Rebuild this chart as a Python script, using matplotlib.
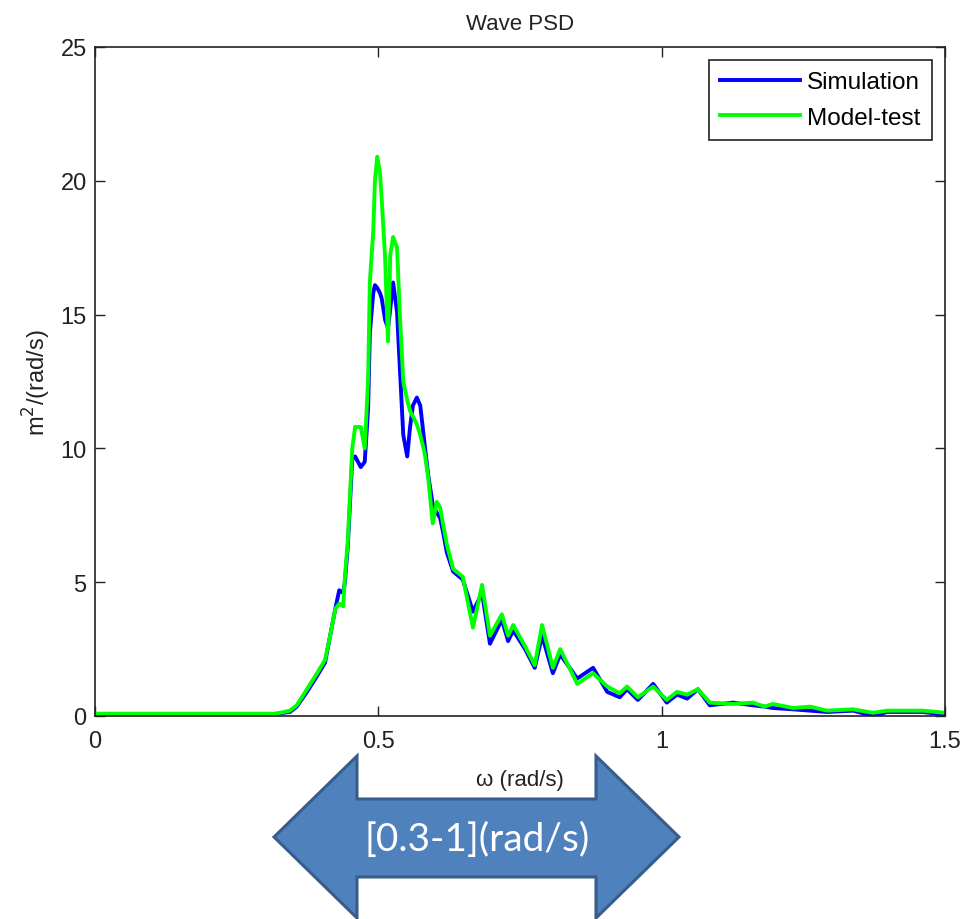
"""Wave PSD: simulation vs model-test spectrum, with the [0.3-1] rad/s band arrow."""

import matplotlib
matplotlib.use("Agg")
import matplotlib.pyplot as plt
from matplotlib.patches import Polygon

plt.rcParams["font.family"] = ["Liberation Sans", "DejaVu Sans"]

# ---- Data ----

omega = [0.000, 0.318, 0.344, 0.356, 0.374, 0.392, 0.406, 0.415, 0.424, 0.431,
         0.438, 0.441, 0.446, 0.454, 0.459, 0.469, 0.476, 0.482, 0.485, 0.491,
         0.494, 0.498, 0.503, 0.506, 0.512, 0.517, 0.521, 0.526, 0.533, 0.538,
         0.544, 0.551, 0.556, 0.561, 0.568, 0.574, 0.582, 0.588, 0.596, 0.603,
         0.609, 0.614, 0.621, 0.632, 0.649, 0.667, 0.683, 0.697, 0.718, 0.729,
         0.738, 0.759, 0.776, 0.789, 0.808, 0.821, 0.851, 0.879, 0.904, 0.926,
         0.939, 0.958, 0.985, 1.009, 1.027, 1.045, 1.064, 1.085, 1.126, 1.161,
         1.182, 1.196, 1.232, 1.262, 1.292, 1.338, 1.373, 1.398, 1.461, 1.500]

psd_sim = [0.08, 0.08, 0.15, 0.35, 0.9, 1.5, 2.0, 3.0, 4.0, 4.7,
           4.6, 5.0, 6.3, 9.6, 9.7, 9.3, 9.5, 11.5, 14.3, 15.8,
           16.1, 16.0, 15.8, 15.6, 14.8, 14.5, 15.2, 16.2, 15.1, 13.0,
           10.5, 9.7, 10.8, 11.6, 11.9, 11.6, 10.1, 9.0, 7.9, 7.6,
           7.4, 6.9, 6.1, 5.4, 5.1, 3.9, 4.6, 2.7, 3.6, 2.8,
           3.2, 2.5, 1.8, 3.0, 1.6, 2.3, 1.4, 1.8, 0.9, 0.7,
           1.0, 0.6, 1.2, 0.5, 0.8, 0.65, 1.0, 0.4, 0.5, 0.4,
           0.35, 0.3, 0.25, 0.2, 0.15, 0.2, 0.0, 0.15, 0.15, 0.05]

psd_test = [0.08, 0.08, 0.2, 0.4, 1.0, 1.6, 2.1, 3.0, 4.0, 4.2,
            4.1, 5.2, 6.5, 10.0, 10.8, 10.8, 10.0, 12.6, 16.2, 18.1,
            20.0, 20.9, 20.3, 19.3, 17.1, 14.0, 17.2, 17.9, 17.5, 15.0,
            12.5, 11.8, 11.4, 11.2, 10.9, 10.5, 9.8, 8.9, 7.2, 8.0,
            7.8, 7.2, 6.4, 5.5, 5.2, 3.3, 4.9, 3.0, 3.8, 3.0,
            3.4, 2.6, 1.9, 3.4, 1.8, 2.5, 1.2, 1.6, 1.1, 0.85,
            1.1, 0.7, 1.1, 0.6, 0.9, 0.8, 1.0, 0.5, 0.45, 0.5,
            0.35, 0.45, 0.3, 0.35, 0.2, 0.25, 0.12, 0.2, 0.2, 0.12]

x_ticks = [0, 0.5, 1, 1.5]
x_tick_labels = ["0", "0.5", "1", "1.5"]
y_ticks = [0, 5, 10, 15, 20, 25]
band_label = "[0.3-1](rad/s)"

W, H = 965, 920


def px(x, y):
    """pixel (from top-left) -> figure fraction"""
    return (x / W, 1 - y / H)


fig = plt.figure(figsize=(W / 100, H / 100), dpi=100)
ax = fig.add_axes([95 / W, 1 - 717 / H, 850 / W, 669 / H])

ax.plot(omega, psd_sim, color="#0000ff", lw=2.8, label="Simulation")
ax.plot(omega, psd_test, color="#00ff00", lw=2.8, label="Model-test")

ax.set_xlim(0, 1.5)
ax.set_ylim(0, 25)
ax.set_xticks(x_ticks, x_tick_labels)
ax.set_yticks(y_ticks)
ax.tick_params(direction="in", length=7, width=1, labelsize=17,
               top=True, right=True, pad=6, colors="#222222")
ax.tick_params(axis="x", pad=10)
for s in ax.spines.values():
    s.set_linewidth(1.2)
    s.set_color("#222222")

ax.set_title("Wave PSD", fontsize=16, pad=13, color="#222222")
ax.set_xlabel("\u03c9 (rad/s)", fontsize=16, labelpad=12, color="#222222")
ax.set_ylabel("m$^2$/(rad/s)", fontsize=17, labelpad=5, color="#222222")

leg = ax.legend(loc="upper right", fontsize=17.5, handlelength=3.3,
                fancybox=False, framealpha=1, borderaxespad=0.55,
                handletextpad=0.3, labelspacing=0.55, borderpad=0.45)
leg.get_frame().set_edgecolor("#222222")
leg.get_frame().set_linewidth(1.2)

# ---- band arrow ----
arrow_px = [(274, 838), (357, 757), (357, 800), (596, 800), (596, 757),
            (679, 838), (596, 919), (596, 878), (357, 878), (357, 919)]
arrow = Polygon([px(x, y) for x, y in arrow_px], closed=True,
                transform=fig.transFigure, facecolor="#4f81bd",
                edgecolor="#385d8a", lw=2.2, zorder=5)
fig.patches.append(arrow)
fig.text(*px(477, 840), band_label, color="white", fontsize=28,
         ha="center", va="center", family=["Lato", "DejaVu Sans"], zorder=6)

fig.savefig("out.png", dpi=100)
